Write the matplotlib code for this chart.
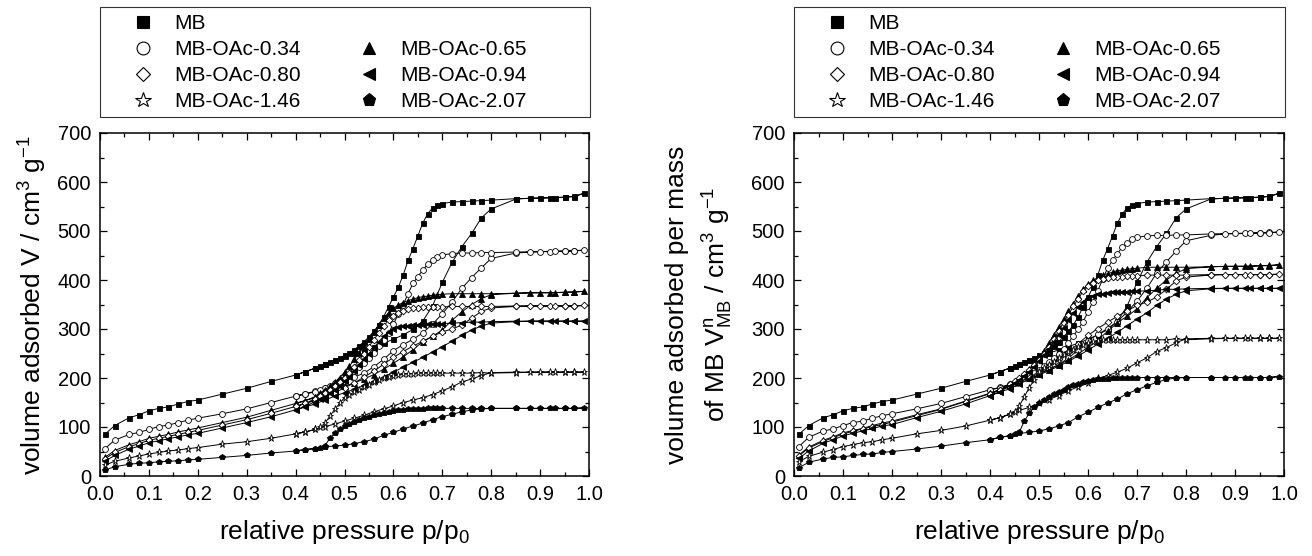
import matplotlib
matplotlib.use("Agg")
import matplotlib.pyplot as plt
from matplotlib.lines import Line2D
from matplotlib.patches import Rectangle
from matplotlib.ticker import MultipleLocator

plt.rcParams['font.family'] = ['Liberation Sans', 'DejaVu Sans']
plt.rcParams['mathtext.fontset'] = 'custom'
plt.rcParams['mathtext.rm'] = 'Liberation Sans'
plt.rcParams['mathtext.it'] = 'Liberation Sans:italic'

# relative pressure p/p0 of the measured points
p_ads = [0.01, 0.03, 0.06, 0.08, 0.10, 0.12, 0.14, 0.16, 0.18, 0.20,
         0.25, 0.30, 0.35, 0.40, 0.42, 0.44, 0.46, 0.48, 0.50, 0.52,
         0.54, 0.56, 0.58, 0.60, 0.62, 0.64, 0.66, 0.68, 0.70, 0.72,
         0.74, 0.76, 0.78, 0.80, 0.85, 0.88, 0.92, 0.95, 0.97, 0.99]
p_des = [0.97, 0.95, 0.93, 0.90, 0.85, 0.80, 0.78, 0.76, 0.74, 0.72,
         0.70, 0.69, 0.68, 0.67, 0.66, 0.65, 0.64, 0.63, 0.62, 0.61,
         0.60, 0.59, 0.58, 0.57, 0.56, 0.55, 0.54, 0.53, 0.52, 0.51,
         0.50, 0.49, 0.48, 0.47, 0.46, 0.45, 0.44, 0.42, 0.40]

labels = ["MB", "MB-OAc-0.34", "MB-OAc-0.65", "MB-OAc-0.80",
          "MB-OAc-0.94", "MB-OAc-1.46", "MB-OAc-2.07"]

# left panel: volume adsorbed V / cm3 g-1
mb_ads = [85, 103, 119, 125, 133, 138, 141, 147, 152, 155, 167, 179, 193, 206, 213, 220, 228, 236, 244, 251,
          257, 264, 271, 279, 288, 299, 316, 347, 395, 436, 468, 495, 527, 545, 565, 567, 568, 569, 570, 577]
mb_des = [571, 569, 568, 567, 566, 563, 562, 561, 560, 559, 556, 553, 547, 535, 516, 490, 464, 440, 410, 385,
          365, 345, 325, 308, 295, 284, 274, 266, 258, 251, 246, 241, 236, 232, 228, 224, 220, 213, 206]
a034_ads = [56, 73, 85, 89, 95, 101, 104, 109, 114, 118, 127, 137, 150, 163, 168, 173, 180, 186, 193, 202,
            210, 223, 238, 256, 268, 279, 292, 310, 331, 355, 383, 405, 425, 444, 455, 457, 458, 459, 460, 461]
a034_des = [459, 459, 459, 458, 457, 456, 456, 455, 455, 454, 451, 447, 440, 432, 420, 407, 393, 372, 350, 330,
            310, 292, 278, 265, 252, 241, 231, 223, 215, 208, 201, 195, 189, 184, 180, 176, 172, 167, 163]
a065_ads = [38, 52, 64, 70, 77, 81, 85, 90, 94, 98, 109, 120, 134, 148, 154, 160, 168, 176, 183, 190,
            198, 207, 218, 230, 243, 258, 274, 285, 298, 318, 335, 350, 362, 370, 373, 374, 374, 375, 376, 377]
a065_des = [375, 375, 374, 374, 373, 372, 372, 372, 372, 372, 371, 370, 369, 367, 366, 364, 361, 358, 354, 349,
            342, 333, 322, 308, 294, 280, 266, 252, 238, 224, 212, 201, 191, 183, 176, 169, 162, 154, 148]
a080_ads = [35, 48, 60, 66, 73, 77, 81, 85, 89, 93, 104, 115, 128, 142, 148, 154, 162, 170, 180, 190,
            202, 214, 228, 242, 254, 265, 275, 285, 294, 300, 308, 322, 336, 343, 346, 347, 347, 347, 347, 348]
a080_des = [347, 347, 347, 347, 347, 346, 346, 346, 346, 346, 345, 345, 345, 344, 344, 343, 342, 340, 337, 333,
            327, 318, 306, 292, 278, 264, 250, 236, 223, 211, 200, 191, 183, 176, 169, 163, 158, 148, 142]
a094_ads = [30, 42, 55, 61, 68, 72, 76, 80, 84, 87, 98, 109, 121, 135, 141, 147, 155, 163, 170, 177,
            185, 193, 202, 212, 222, 232, 242, 253, 264, 275, 287, 298, 306, 312, 315, 316, 316, 316, 316, 316]
a094_des = [316, 316, 316, 316, 316, 315, 314, 314, 313, 312, 311, 311, 310, 310, 309, 309, 308, 307, 306, 304,
            300, 294, 285, 274, 262, 250, 238, 226, 214, 203, 193, 184, 176, 169, 162, 157, 152, 142, 135]
a146_ads = [22, 30, 37, 41, 45, 48, 51, 53, 56, 58, 65, 70, 77, 86, 90, 95, 101, 106, 112, 118,
            124, 131, 137, 143, 150, 155, 160, 166, 174, 182, 192, 198, 205, 211, 212, 212, 212, 212, 212, 212]
a146_des = [212, 212, 212, 212, 211, 210, 211, 210, 210, 210, 210, 210, 210, 210, 210, 210, 209, 209, 208, 207,
            205, 202, 199, 195, 191, 186, 181, 176, 171, 166, 160, 148, 136, 122, 108, 99, 95, 90, 86]
a207_ads = [12, 19, 24, 26, 27, 29, 30, 31, 33, 34, 38, 42, 47, 51, 54, 56, 60, 61, 63, 66,
            70, 75, 83, 89, 96, 102, 108, 115, 121, 126, 131, 135, 137, 138, 138, 138, 138, 138, 138, 139]
a207_des = [138, 138, 138, 138, 138, 138, 138, 138, 138, 138, 138, 138, 138, 138, 137, 137, 136, 136, 135, 134,
            133, 131, 129, 127, 124, 121, 118, 115, 111, 107, 102, 96, 88, 77, 62, 58, 56, 54, 51]

# right panel: volume adsorbed per mass of MB / cm3 g-1
a034_ads_n = [60, 79, 92, 96, 103, 109, 112, 118, 123, 127, 137, 148, 162, 176, 181, 187, 194, 201, 208, 218,
              227, 241, 257, 276, 289, 301, 315, 335, 357, 383, 414, 437, 459, 480, 491, 494, 495, 496, 497, 498]
a034_des_n = [496, 496, 496, 495, 494, 492, 492, 491, 491, 490, 487, 483, 475, 467, 454, 440, 424, 402, 378, 356,
              335, 315, 300, 286, 272, 260, 249, 241, 232, 225, 217, 211, 204, 199, 194, 190, 186, 180, 176]
a065_ads_n = [43, 59, 73, 80, 88, 93, 97, 103, 108, 112, 125, 137, 153, 169, 176, 183, 192, 201, 209, 217,
              227, 237, 249, 263, 278, 295, 313, 326, 341, 364, 383, 400, 414, 423, 427, 428, 428, 429, 430, 431]
a065_des_n = [429, 429, 428, 428, 427, 426, 426, 426, 426, 426, 424, 423, 422, 420, 419, 416, 413, 410, 405, 399,
              391, 381, 368, 352, 336, 320, 304, 288, 272, 256, 243, 230, 219, 209, 201, 193, 185, 176, 169]
a080_ads_n = [41, 57, 71, 78, 86, 91, 96, 101, 105, 110, 123, 136, 152, 168, 175, 182, 192, 201, 213, 225,
              239, 253, 270, 287, 301, 314, 326, 337, 348, 355, 365, 381, 398, 406, 410, 411, 411, 411, 411, 412]
a080_des_n = [411, 411, 411, 411, 411, 410, 410, 410, 410, 410, 408, 408, 408, 407, 407, 406, 405, 403, 399, 394,
              387, 377, 362, 346, 329, 313, 296, 279, 264, 250, 237, 226, 217, 208, 200, 193, 187, 175, 168]
a094_ads_n = [36, 51, 67, 74, 82, 87, 92, 97, 102, 105, 119, 132, 147, 164, 171, 178, 188, 198, 206, 215,
              224, 234, 245, 257, 269, 281, 293, 307, 320, 333, 348, 361, 371, 378, 382, 383, 383, 383, 383, 383]
a094_des_n = [383, 383, 383, 383, 383, 382, 381, 381, 379, 378, 377, 377, 376, 376, 375, 375, 373, 372, 371, 368,
              364, 356, 345, 332, 318, 303, 288, 274, 259, 246, 234, 223, 213, 205, 196, 190, 184, 172, 164]
a146_ads_n = [29, 40, 49, 54, 60, 64, 68, 70, 74, 77, 86, 93, 102, 114, 119, 126, 134, 140, 148, 156,
              164, 174, 182, 189, 199, 205, 212, 220, 231, 241, 254, 262, 272, 280, 281, 281, 281, 281, 281, 281]
a146_des_n = [281, 281, 281, 281, 280, 278, 280, 278, 278, 278, 278, 278, 278, 278, 278, 278, 277, 277, 276, 274,
              272, 268, 264, 258, 253, 246, 240, 233, 227, 220, 212, 196, 180, 162, 143, 131, 126, 119, 114]
a207_ads_n = [17, 28, 35, 38, 39, 42, 44, 45, 48, 50, 55, 61, 68, 74, 79, 82, 87, 89, 92, 96,
              102, 109, 121, 130, 140, 149, 157, 168, 176, 184, 191, 197, 200, 201, 201, 201, 201, 201, 201, 203]
a207_des_n = [201, 201, 201, 201, 201, 201, 201, 201, 201, 201, 201, 201, 201, 201, 200, 200, 198, 198, 197, 195,
              194, 191, 188, 185, 181, 176, 172, 168, 162, 156, 149, 140, 128, 112, 90, 85, 82, 79, 74]

left_ads = [mb_ads, a034_ads, a065_ads, a080_ads, a094_ads, a146_ads, a207_ads]
left_des = [mb_des, a034_des, a065_des, a080_des, a094_des, a146_des, a207_des]
right_ads = [mb_ads, a034_ads_n, a065_ads_n, a080_ads_n, a094_ads_n, a146_ads_n, a207_ads_n]
right_des = [mb_des, a034_des_n, a065_des_n, a080_des_n, a094_des_n, a146_des_n, a207_des_n]

markers = ['s', 'o', '^', 'D', '<', '*', 'p']
filled = [True, False, True, False, True, False, True]
msizes = [3.6, 4.2, 4.2, 3.4, 4.2, 5.2, 4.4]

fig = plt.figure(figsize=(13.12, 5.56), dpi=100)
ax_l = fig.add_axes([100 / 1312, 80 / 556, 489 / 1312, 343 / 556])
ax_r = fig.add_axes([794 / 1312, 80 / 556, 490 / 1312, 343 / 556])


def draw_panel(ax, ads_list, des_list):
    for i in range(len(labels)):
        x = p_ads + p_des
        y = ads_list[i] + des_list[i]
        ax.plot(x, y, color='black', lw=0.7, marker=markers[i], ms=msizes[i],
                mfc='black' if filled[i] else 'white', mec='black', mew=0.6)
    ax.set_xlim(0, 1.0)
    ax.set_ylim(0, 700)
    ax.xaxis.set_major_locator(MultipleLocator(0.1))
    ax.xaxis.set_minor_locator(MultipleLocator(0.05))
    ax.yaxis.set_major_locator(MultipleLocator(100))
    ax.yaxis.set_minor_locator(MultipleLocator(50))
    ax.xaxis.set_major_formatter(plt.FuncFormatter(lambda v, _: f"{v:.1f}"))
    ax.tick_params(which='both', direction='in', top=True, right=True, width=0.9,
                   labelsize=14.5, pad=6.5)
    ax.tick_params(which='major', length=5)
    ax.tick_params(which='minor', length=2.6)
    for s in ax.spines.values():
        s.set_linewidth(1.1)
    ax.set_xlabel(r'relative pressure p/p$_0$', fontsize=19, labelpad=10)

    # legend box above the axes
    ax.add_patch(Rectangle((0, 1.0466), 1.002, 0.3207, transform=ax.transAxes,
                           fill=False, lw=0.8, ec='#333333', clip_on=False))
    handles = []
    for i in range(len(labels)):
        handles.append(Line2D([], [], linestyle='none', marker=markers[i], ms=msizes[i] * 2.2,
                              mfc='black' if filled[i] else 'white', mec='black', mew=0.8))
    blank = Line2D([], [], linestyle='none')
    order = [0, 1, 3, 5]
    h = [handles[k] for k in order] + [blank] + [handles[k] for k in (2, 4, 6)]
    lab = [labels[k] for k in order] + [''] + [labels[k] for k in (2, 4, 6)]
    ax.legend(h, lab, ncol=2, loc='upper left', bbox_to_anchor=(0.066, 1.347),
              frameon=False, fontsize=15, borderpad=0, borderaxespad=0,
              handlelength=1.0, handletextpad=1.0, columnspacing=2.8,
              labelspacing=0.34)


draw_panel(ax_l, left_ads, left_des)
draw_panel(ax_r, right_ads, right_des)

ax_l.text(-0.137, 0.5, r'volume adsorbed V / cm$^{3}$ g$^{-1}$', transform=ax_l.transAxes,
          rotation=90, ha='center', va='center', fontsize=19)
ax_r.text(-0.192, 0.5, 'volume adsorbed per mass\n'
          + r'of MB V$^{\mathrm{n}}_{\mathrm{MB}}$ / cm$^{3}$ g$^{-1}$',
          transform=ax_r.transAxes, rotation=90, ha='center', va='center', fontsize=19,
          linespacing=1.45)

fig.savefig('out.png', dpi=100)
